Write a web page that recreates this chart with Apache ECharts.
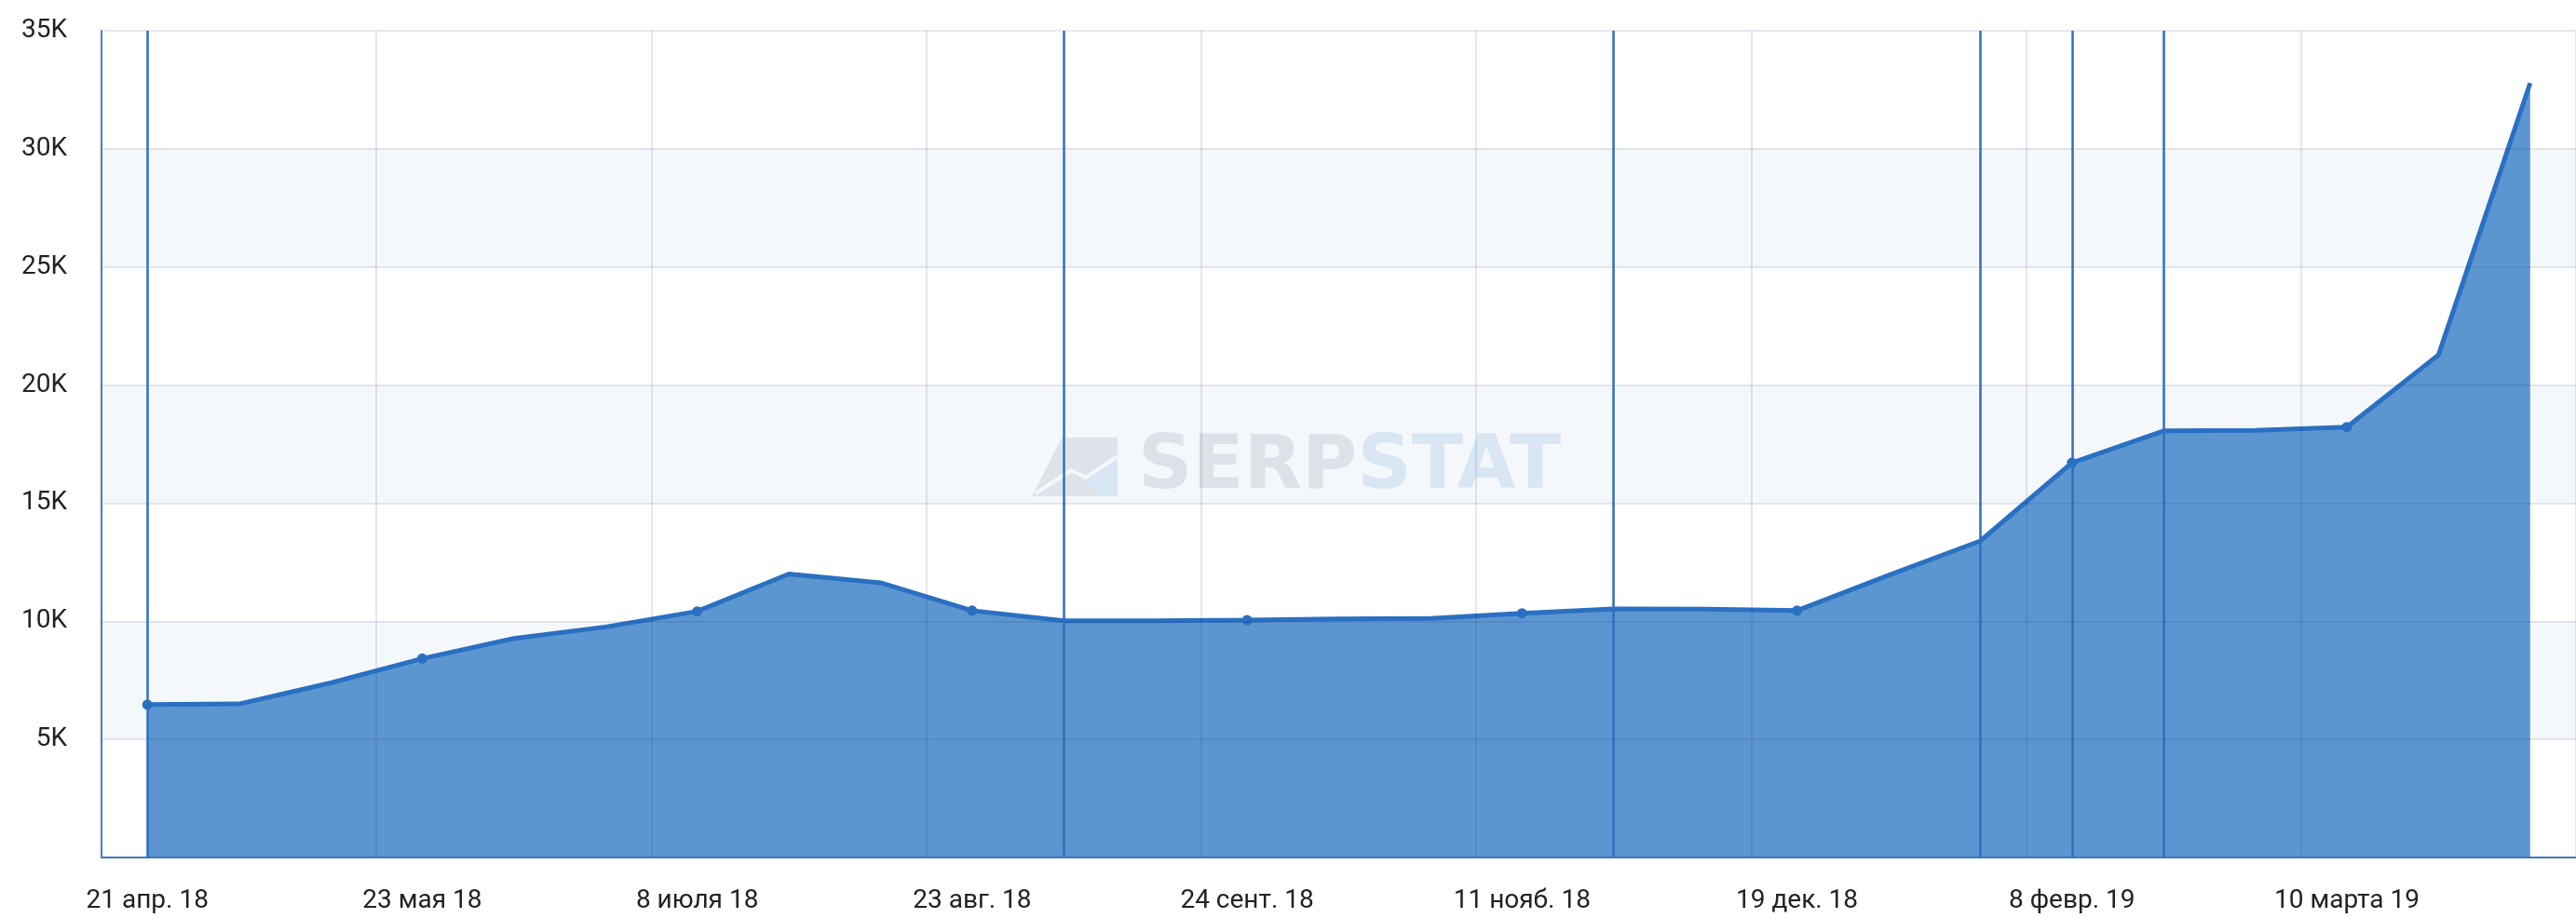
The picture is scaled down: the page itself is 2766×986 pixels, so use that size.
<!DOCTYPE html>
<html>
<head>
<meta charset="utf-8">
<title>Keywords trend</title>
<script src="https://cdn.jsdelivr.net/npm/echarts@6/dist/echarts.min.js"></script>
<style>
  html, body { margin: 0; padding: 0; background: #ffffff; }
  #chart { width: 2766px; height: 986px; }
</style>
</head>
<body>
<div id="chart"></div>
<script>
// Dates on the category axis (only every third one is labelled)
const dateLabels = [
  '21 апр. 18', '', '',
  '23 мая 18', '', '',
  '8 июля 18', '', '',
  '23 авг. 18', '', '',
  '24 сент. 18', '', '',
  '11 нояб. 18', '', '',
  '19 дек. 18', '', '',
  '8 февр. 19', '', '',
  '10 марта 19', '', ''
];

// Number of keywords per snapshot
const keywordCounts = [
  6470, 6500, 7390, 8420, 9270, 9760, 10420, 12000, 11630,
  10450, 10020, 10020, 10050, 10100, 10120, 10340, 10520, 10510,
  10450, 11950, 13400, 16710, 18060, 18080, 18220, 21280, 32780
];

// Snapshots flagged with a vertical event line
const eventIndexes = [0, 10, 16, 20, 21, 22];

// Value axis range and step
const yMin = 0;
const yMax = 35000;
const yStep = 5000;

const FONT = 'Roboto';
const lineBlue = '#2a70c2';
const fillBlue = '#5b96d0';

const chart = echarts.init(document.getElementById('chart'), null, { renderer: 'canvas' });

const kFormatter = v => (v === 0 ? '' : (v / 1000) + 'K');

// watermark pieces sit above the banded background and below the series
const WM_Z = 1;

const option = {
  backgroundColor: '#ffffff',
  animation: false,
  grid: { left: 109, right: -7, top: 33, bottom: 65, containLabel: false },
  xAxis: {
    type: 'category',
    data: dateLabels,
    boundaryGap: true,
    z: 3,
    axisLine: { show: true, lineStyle: { color: '#3f78c2', width: 2 } },
    axisTick: { show: false, interval: 2 },
    axisLabel: {
      interval: 2,
      margin: 33,
      fontFamily: FONT,
      fontSize: 28,
      color: '#222222'
    },
    splitLine: {
      show: true,
      interval: 2,
      lineStyle: { color: 'rgba(30,40,110,0.11)', width: 2 }
    }
  },
  yAxis: [
    {
      type: 'value',
      min: yMin,
      max: yMax,
      interval: yStep,
      z: 0,
      axisLine: { show: true, lineStyle: { color: '#4d86cc', width: 2 } },
      axisTick: { show: false },
      axisLabel: {
        formatter: kFormatter,
        margin: 37,
        fontFamily: FONT,
        fontSize: 28,
        color: '#222222'
      },
      splitLine: { show: false },
      splitArea: {
        show: true,
        areaStyle: { color: ['#ffffff', '#f5f8fa'] }
      }
    },
    {
      type: 'value',
      min: yMin,
      max: yMax,
      interval: yStep,
      z: 3,
      axisLine: { show: false },
      axisTick: { show: false },
      axisLabel: { show: false },
      splitLine: { show: true, lineStyle: { color: 'rgba(30,40,110,0.11)', width: 2 } },
      splitArea: { show: false }
    }
  ],
  graphic: {
    elements: [
      {
        type: 'polygon',
        z: WM_Z,
        silent: true,
        shape: { points: [[1140, 470], [1200, 470], [1200, 533], [1108, 533]] },
        style: { fill: '#dfe3e9' }
      },
      {
        type: 'polygon',
        z: WM_Z,
        silent: true,
        shape: { points: [[1166, 513], [1200, 492], [1200, 533], [1180, 533]] },
        style: { fill: '#d8e6f3' }
      },
      {
        type: 'polyline',
        z: WM_Z,
        silent: true,
        shape: { points: [[1112, 530], [1150, 505], [1166, 513], [1200, 490]] },
        style: { stroke: '#f5f8fa', lineWidth: 4, fill: null }
      },
      {
        type: 'text',
        z: WM_Z,
        silent: true,
        x: 1222,
        y: 503,
        style: {
          text: '{a|SERP}{b|STAT}',
          verticalAlign: 'middle',
          align: 'left',
          rich: {
            a: { fontFamily: 'DejaVu Sans', fontWeight: 'bold', fontSize: 81, fill: '#dde2e9' },
            b: { fontFamily: 'DejaVu Sans', fontWeight: 'bold', fontSize: 81, fill: '#d9e6f3' }
          }
        }
      }
    ]
  },
  series: [
    {
      type: 'line',
      data: keywordCounts,
      yAxisIndex: 0,
      symbol: 'circle',
      showAllSymbol: true,
      symbolSize: (value, params) => (params.dataIndex % 3 === 0 ? 11 : 0),
      itemStyle: { color: lineBlue },
      lineStyle: { color: lineBlue, width: 5 },
      areaStyle: { color: fillBlue, opacity: 1 },
      z: 2,
      markLine: {
        silent: true,
        symbol: ['none', 'none'],
        label: { show: false },
        lineStyle: { color: '#2e6fbe', width: 2.5, type: 'solid' },
        data: eventIndexes.map(i => ({ xAxis: i }))
      }
    }
  ]
};

chart.setOption(option);
</script>
</body>
</html>
